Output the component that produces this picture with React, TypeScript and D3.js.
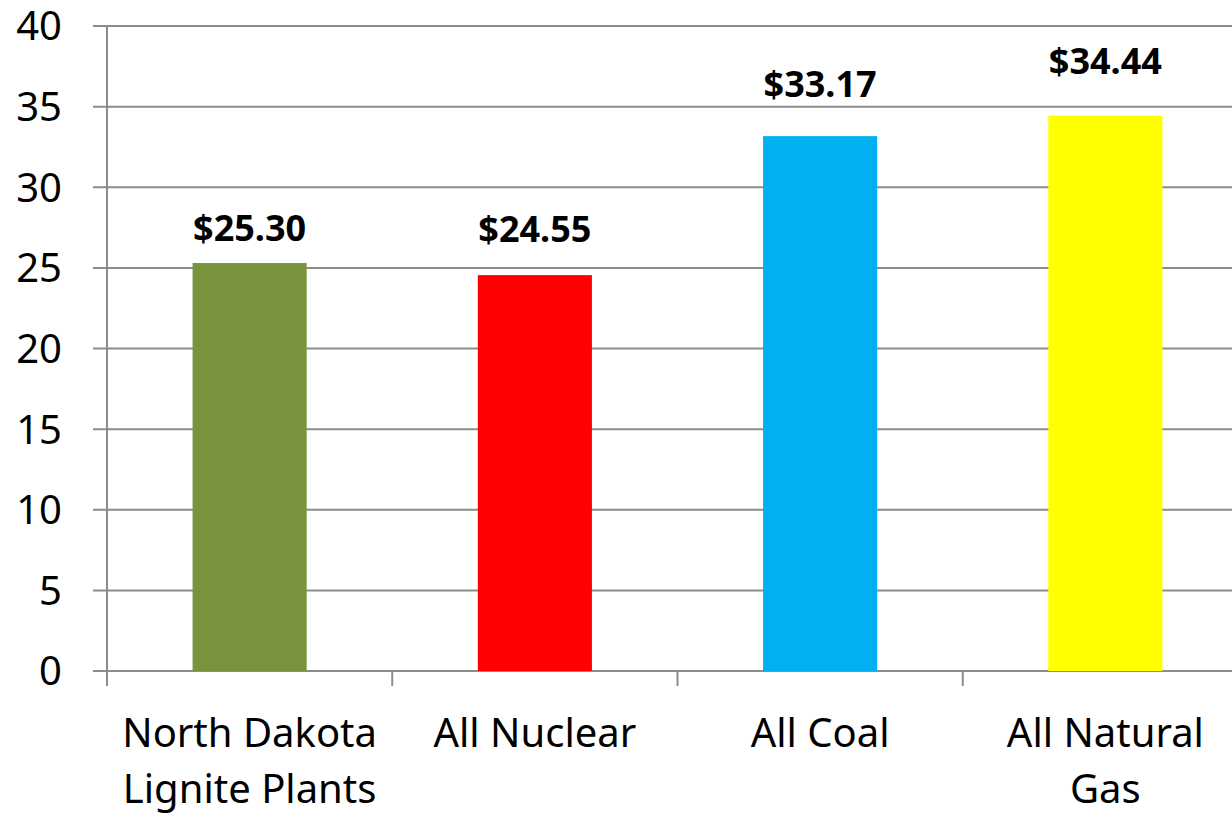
import { useEffect, useRef } from "react";
import * as d3 from "d3";

// chart values
const categories = [
  ["North Dakota", "Lignite Plants"],
  ["All Nuclear"],
  ["All Coal"],
  ["All Natural", "Gas"],
];
const values = [25.3, 24.55, 33.17, 34.44];
const barColors = ["#77933C", "#FF0000", "#00B0F0", "#FFFF00"];
const yTicks = [0, 5, 10, 15, 20, 25, 30, 35, 40];
// the labels were nudged by hand in the original, so they sit at different heights
const labelGap = [22, 33, 39, 42];

const W = 1232,
  H = 813;
const margin = { top: 26, left: 107, bottom: 142 };
const plotRight = 1248; // last band runs past the picture edge

const App = () => {
  const svgRef = useRef<SVGSVGElement>(null);

  useEffect(() => {
    const svg = d3.select(svgRef.current);
    svg.selectAll("*").remove();

    const x = d3
      .scaleBand<number>()
      .domain(d3.range(values.length))
      .range([margin.left, plotRight])
      .padding(0);
    const y = d3.scaleLinear().domain([0, 40]).range([H - margin.bottom, margin.top]);

    const font = "'Noto Sans', sans-serif";
    const grid = "#8c8c8c";

    // horizontal gridlines + little ticks left of the axis
    svg
      .append("g")
      .selectAll("line")
      .data(yTicks)
      .enter()
      .append("line")
      .attr("x1", margin.left - 14)
      .attr("x2", plotRight)
      .attr("y1", (d) => y(d))
      .attr("y2", (d) => y(d))
      .attr("stroke", grid)
      .attr("stroke-width", 2);

    // y axis line
    svg
      .append("line")
      .attr("x1", margin.left)
      .attr("x2", margin.left)
      .attr("y1", y(40))
      .attr("y2", y(0) + 15)
      .attr("stroke", grid)
      .attr("stroke-width", 2);

    // category boundary ticks under the x axis
    svg
      .append("g")
      .selectAll("line")
      .data(d3.range(values.length + 1))
      .enter()
      .append("line")
      .attr("x1", (i) => margin.left + i * x.step())
      .attr("x2", (i) => margin.left + i * x.step())
      .attr("y1", y(0))
      .attr("y2", y(0) + 15)
      .attr("stroke", grid)
      .attr("stroke-width", 2);

    // y tick labels
    svg
      .append("g")
      .selectAll("text")
      .data(yTicks)
      .enter()
      .append("text")
      .attr("x", 62)
      .attr("y", (d) => y(d))
      .attr("dy", "0.36em")
      .attr("text-anchor", "end")
      .style("font", `40px ${font}`)
      .attr("fill", "#000")
      .text((d) => d);

    // bars
    const bw = x.bandwidth() * 0.4;
    svg
      .append("g")
      .selectAll("rect")
      .data(values)
      .enter()
      .append("rect")
      .attr("x", (d, i) => x(i)! + (x.bandwidth() - bw) / 2)
      .attr("y", (d) => y(d))
      .attr("width", bw)
      .attr("height", (d) => y(0) - y(d))
      .attr("fill", (d, i) => barColors[i]);

    // value labels
    svg
      .append("g")
      .selectAll("text")
      .data(values)
      .enter()
      .append("text")
      .attr("x", (d, i) => x(i)! + x.bandwidth() / 2)
      .attr("y", (d, i) => y(d) - labelGap[i])
      .attr("text-anchor", "middle")
      .style("font", `bold 36px ${font}`)
      .attr("fill", "#000")
      .text((d) => "$" + d.toFixed(2));

    // category labels
    const cat = svg
      .append("g")
      .selectAll("text")
      .data(categories)
      .enter()
      .append("text")
      .attr("x", (d, i) => x(i)! + x.bandwidth() / 2)
      .attr("y", 747)
      .attr("text-anchor", "middle")
      .style("font", `40px ${font}`)
      .attr("fill", "#000");
    cat
      .selectAll("tspan")
      .data((d) => d)
      .enter()
      .append("tspan")
      .attr("x", function () {
        return (this.parentNode as SVGTextElement).getAttribute("x");
      })
      .attr("dy", (d, j) => (j === 0 ? 0 : 56))
      .text((d) => d);
  }, []);

  return (
    <svg
      ref={svgRef}
      width={W}
      height={H}
      style={{ position: "absolute", left: 0, top: 0, background: "#fff" }}
    />
  );
};

export default App;
